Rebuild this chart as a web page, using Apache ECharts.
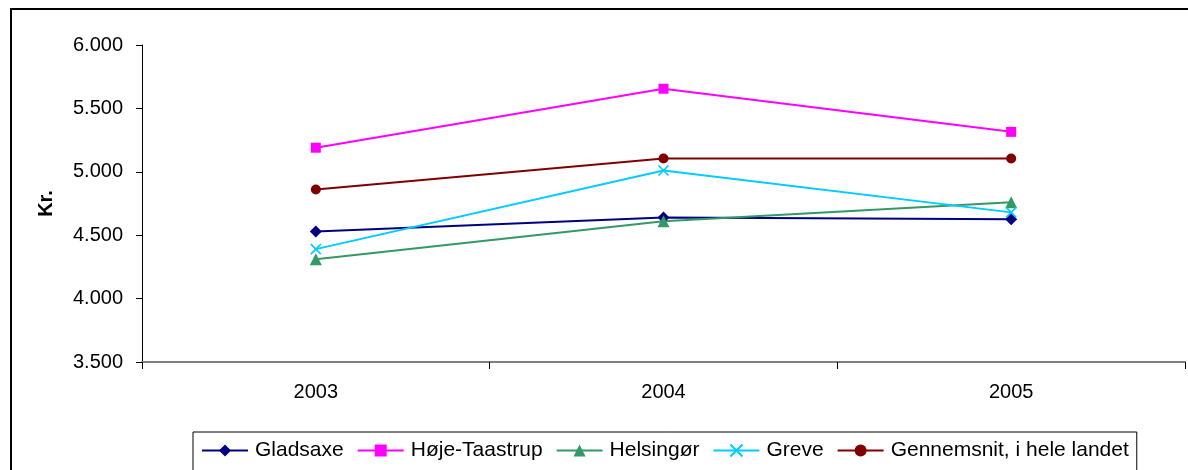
<!DOCTYPE html>
<html>
<head>
<meta charset="utf-8">
<title>Kr.</title>
<script src="https://cdn.jsdelivr.net/npm/echarts@6/dist/echarts.min.js"></script>
<style>
  html, body { margin: 0; padding: 0; background: #fff; }
  #main { width: 1188px; height: 470px; }
</style>
</head>
<body>
<div id="main"></div>
<script>
// data
var years = ['2003', '2004', '2005'];
var gladsaxe = [4530, 4640, 4625];
var hojeTaastrup = [5190, 5655, 5315];
var helsingor = [4310, 4610, 4760];
var greve = [4390, 5010, 4680];
var gennemsnit = [4860, 5105, 5105];
var yTicks = { min: 3500, max: 6000, step: 500 };

function fmt(v) {
    return String(v).replace(/\B(?=(\d{3})+(?!\d))/g, '.');
}

var font = 'Liberation Sans, Arial, sans-serif';

function serie(name, data, color, symbol, size) {
    return {
        name: name,
        type: 'line',
        data: data,
        symbol: symbol,
        symbolSize: size,
        showAllSymbol: true,
        lineStyle: { color: color, width: 2 },
        itemStyle: { color: color },
        emphasis: { disabled: true },
        animation: false
    };
}

var crossPath = 'path://M0,0 L10,10 M10,0 L0,10';
var greveSerie = serie('Greve', greve, '#00CCFF', crossPath, 10);
greveSerie.itemStyle = { color: 'none', borderColor: '#00CCFF', borderWidth: 1.6 };

var myChart = echarts.init(document.getElementById('main'));
option = {
    animation: false,
    textStyle: { fontFamily: font },
    graphic: [{
        type: 'rect',
        shape: { x: 11, y: 9, width: 1400, height: 700 },
        style: { fill: 'none', stroke: '#000', lineWidth: 2 },
        silent: true
    }],
    grid: { left: 142, right: 3, top: 45, bottom: 108, containLabel: false },
    legend: {
        left: 193,
        top: 432,
        padding: [8, 8, 20, 8],
        itemWidth: 46,
        itemHeight: 15,
        itemGap: 13,
        borderColor: '#000',
        borderWidth: 1,
        textStyle: { fontSize: 21, color: '#000', fontFamily: font, padding: [0, 0, 0, 2] },
        data: ['Gladsaxe', 'Høje-Taastrup', 'Helsingør', 'Greve', 'Gennemsnit, i hele landet']
    },
    xAxis: {
        type: 'category',
        data: years,
        boundaryGap: true,
        axisLine: { lineStyle: { color: '#808080', width: 2 } },
        axisTick: { show: true, length: 7, lineStyle: { color: '#000' } },
        axisLabel: { fontSize: 20, color: '#000', margin: 20, fontFamily: font },
        splitLine: { show: false }
    },
    yAxis: {
        type: 'value',
        min: yTicks.min,
        max: yTicks.max,
        interval: yTicks.step,
        name: 'Kr.',
        nameLocation: 'middle',
        nameRotate: 90,
        nameGap: 86,
        nameTextStyle: { fontSize: 20, fontWeight: 'bold', color: '#000', fontFamily: font },
        axisLine: { show: true, lineStyle: { color: '#000', width: 1 } },
        axisTick: { show: true, length: 6, lineStyle: { color: '#000' } },
        axisLabel: {
            fontSize: 20, color: '#000', margin: 19, fontFamily: font,
            formatter: function (v) { return fmt(v); }
        },
        splitLine: { show: false }
    },
    series: [
        serie('Gladsaxe', gladsaxe, '#000080', 'diamond', 12),
        serie('Høje-Taastrup', hojeTaastrup, '#FF00FF', 'rect', 10),
        serie('Helsingør', helsingor, '#339966', 'triangle', 12),
        greveSerie,
        serie('Gennemsnit, i hele landet', gennemsnit, '#800000', 'circle', 10)
    ]
};
myChart.setOption(option);
</script>
</body>
</html>
